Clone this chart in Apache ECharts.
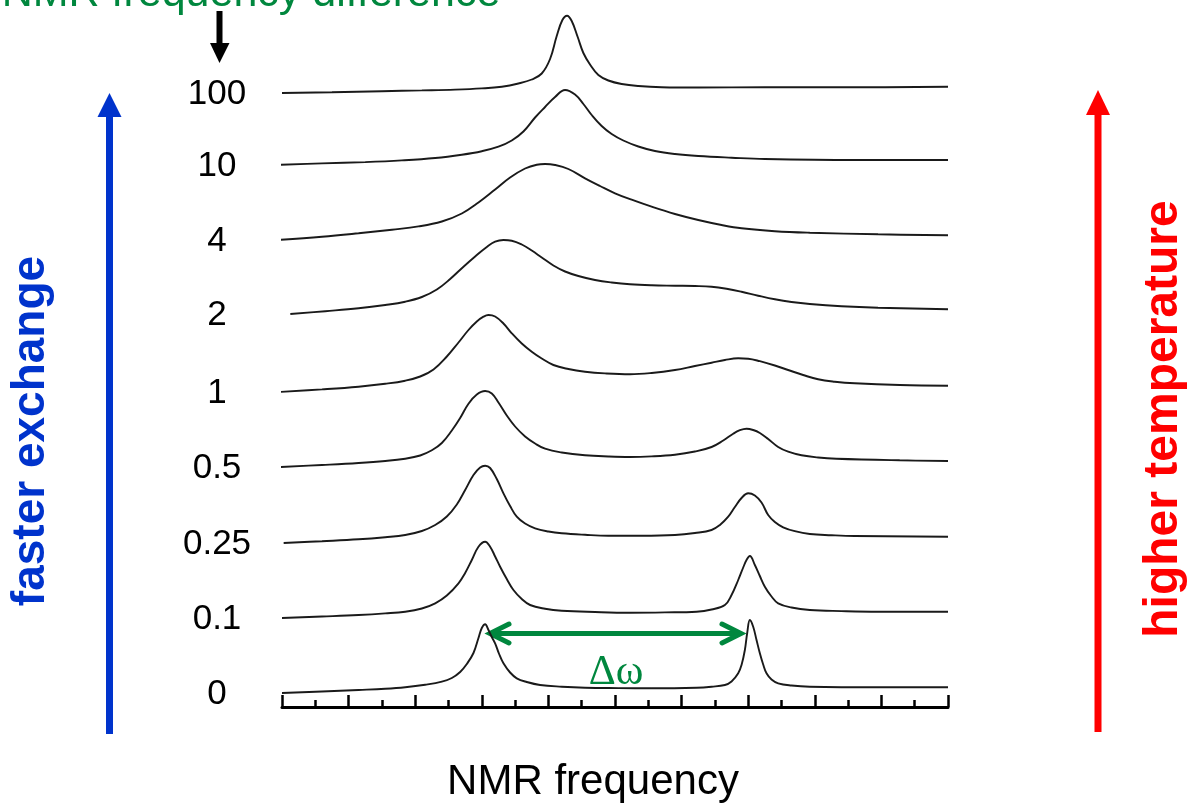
<!DOCTYPE html>
<html><head><meta charset="utf-8">
<script src="https://cdn.jsdelivr.net/npm/echarts@6/dist/echarts.min.js"></script>
<style>html,body{margin:0;padding:0;background:#fff}#c{width:1189px;height:807px}</style>
</head><body><div id="c"></div>
<script>
// exchange-rate labels (top to bottom) and stacking offsets of each trace
const rates = ['100', '10', '4', '2', '1', '0.5', '0.25', '0.1', '0'];
const offsets = [614, 542, 467, 393, 315, 240, 164, 89, 14];

// [frequency (axis units 0..20), intensity above trace baseline]
const trace100 = [[0,0],[1.5,0.8],[3,1.8],[4.2,2.6],[5.2,3.4],[6.0,4.6],[6.6,6.3],[7.1,9.5],[7.5,13.5],[7.8,19.5],[8.05,34],[8.25,57],[8.42,73],[8.56,77.3],[8.7,72],[8.88,56],[9.05,40],[9.25,28.5],[9.5,18],[9.8,12.5],[10.2,9],[10.7,7],[11.4,5.8],[12.5,5.5],[14.5,5.7],[17.2,5.7],[20,6.3]];
const trace10 = [[-0.2,0],[1.2,1.6],[2.5,2.9],[3.6,4.6],[4.6,7],[5.4,10.3],[6.0,13.8],[6.5,18.3],[6.9,24.5],[7.25,33.5],[7.6,47.5],[7.9,58],[8.2,68],[8.5,75],[8.8,70.5],[9.05,61],[9.3,50],[9.6,39],[9.9,31],[10.25,24.5],[10.7,18.5],[11.2,14],[11.8,11],[12.5,9],[13.5,7.3],[14.5,6],[17.2,5],[20,5]];
const trace4 = [[-0.15,0],[1.2,3.2],[2.3,6.7],[3.3,10.3],[4.1,13.6],[4.8,18.5],[5.4,26.5],[5.9,37.5],[6.4,50.5],[6.85,62.5],[7.3,71.5],[7.65,75.3],[7.9,76],[8.2,75],[8.6,71],[9.1,61.7],[9.55,54],[10.0,46.7],[10.5,40.3],[11.1,33.3],[11.8,26],[12.5,20],[13.2,15],[13.8,11.7],[14.8,8.8],[15.85,7.3],[17.9,5.7],[20,4.7]];
const trace2 = [[0.25,0],[1.3,2.8],[2.3,5.7],[3.1,9],[3.7,12.3],[4.2,17],[4.65,24.5],[5.05,35],[5.45,47.3],[5.8,57.5],[6.15,67],[6.4,72.3],[6.65,74],[6.9,73.3],[7.2,69.5],[7.5,63.5],[7.8,56.5],[8.15,48.5],[8.5,42.5],[8.9,38],[9.4,34],[9.9,31.5],[10.45,29.7],[11.1,28.7],[11.8,28.3],[12.4,28],[12.9,27.3],[13.35,25.3],[13.8,22.3],[14.3,18.3],[14.8,14.7],[15.3,12],[15.85,10],[16.8,7.8],[17.9,6.3],[20,4.7]];
const trace1 = [[-0.1,0],[1.2,2.6],[2.3,5.3],[3.1,8.2],[3.7,11.3],[4.15,15.5],[4.55,22.5],[4.95,35.5],[5.3,49.5],[5.6,62],[5.85,70.5],[6.05,75.3],[6.2,77],[6.4,75.5],[6.65,68.5],[6.9,58.7],[7.2,48.5],[7.5,40.3],[7.8,33.5],[8.15,27],[8.6,23],[9.1,20.3],[9.7,18.6],[10.45,17.7],[11.1,19],[11.8,22],[12.4,26],[12.9,29.3],[13.3,32],[13.7,33.7],[14.0,33.3],[14.35,30.8],[14.8,26.5],[15.2,22],[15.65,17],[16.1,12.7],[16.6,10.3],[17.2,8.7],[18.55,7],[20,6.3]];
const trace05 = [[-0.05,0],[1.2,2],[2.3,4],[3.1,6],[3.7,8.3],[4.15,11.5],[4.5,16.7],[4.8,24],[5.1,36.5],[5.35,49],[5.6,63.3],[5.85,72.5],[6.1,76],[6.3,73.5],[6.5,64.5],[6.75,51.5],[7.0,40.5],[7.3,30.5],[7.6,23.5],[7.9,18.3],[8.4,14.5],[9.1,11.7],[9.8,10.5],[10.45,10],[11.1,10.6],[11.8,12.3],[12.4,15.5],[12.9,20],[13.25,26.5],[13.55,33.3],[13.75,36.8],[13.95,38.3],[14.15,37],[14.35,34],[14.6,28],[14.9,20],[15.2,15.3],[15.6,11.7],[16.1,9.5],[16.65,8.3],[18.55,6.7],[20,6]];
const trace025 = [[0.05,0],[1.2,1.8],[2.3,3.7],[3.1,5.8],[3.7,8],[4.2,12],[4.6,18],[4.95,26.5],[5.25,38.5],[5.5,53],[5.75,68],[5.95,75.5],[6.1,77.3],[6.25,75],[6.45,64],[6.65,49.7],[6.85,37],[7.05,26.3],[7.3,19.5],[7.6,14.7],[8.0,11.5],[8.4,9.7],[9.1,8.2],[9.8,7.3],[10.8,7.3],[11.8,8],[12.4,10],[12.9,13],[13.15,18],[13.4,26.3],[13.6,36],[13.8,45],[14.0,49.7],[14.2,47.5],[14.4,40.5],[14.6,28],[14.8,21],[15.05,15.7],[15.4,11.8],[15.85,9],[16.5,7.8],[17.2,7],[20,6.3]];
const trace01 = [[0,0],[1.2,1.5],[2.3,3],[3.1,4.6],[3.7,6.3],[4.2,9.5],[4.6,14.7],[4.95,22.5],[5.3,34.7],[5.5,45],[5.7,58],[5.9,71.3],[6.1,76.3],[6.25,71.3],[6.4,61.5],[6.55,51.3],[6.75,39],[6.95,28],[7.2,19],[7.45,13],[7.9,9.3],[8.4,7.3],[9.4,6],[10.45,5.3],[11.5,5.6],[12.45,6.3],[12.9,8.5],[13.3,13],[13.5,23],[13.7,38],[13.85,50.5],[13.95,58],[14.05,62],[14.2,53],[14.35,42],[14.5,31.3],[14.7,21.5],[14.9,14.7],[15.3,10.5],[15.85,8],[16.8,6.9],[17.9,6.3],[20,6.3]];
const trace0 = [[0,0],[1.2,1.5],[2.3,3],[3.1,4.2],[3.7,5.7],[4.3,8.2],[4.8,11.3],[5.1,15],[5.35,21],[5.55,29],[5.75,40],[5.9,55],[6.0,65],[6.1,68.7],[6.2,63],[6.3,56],[6.4,49.7],[6.52,39],[6.65,29.7],[6.85,20.5],[7.05,14.7],[7.35,11],[7.75,8],[8.4,6.3],[9.1,5.3],[10.1,4.9],[11.1,4.7],[12.45,5.3],[12.9,6.3],[13.3,8],[13.5,11.5],[13.7,19.7],[13.8,28],[13.9,43],[13.97,60],[14.05,73],[14.15,66.3],[14.25,53],[14.35,39.7],[14.45,28.5],[14.55,19.7],[14.7,13.5],[14.9,9.7],[15.3,7.5],[15.85,6.3],[17.9,5.7],[20,5.7]];
const traces = [trace100, trace10, trace4, trace2, trace1, trace05, trace025, trace01, trace0];

const chart = echarts.init(document.getElementById('c'), null, {renderer: 'canvas'});
const FONT = '"Liberation Sans", Arial, sans-serif';

const series = traces.map((t, i) => ({
  type: 'line', name: rates[i], silent: true, clip: false,
  smooth: 0.4, showSymbol: false, symbol: 'none',
  lineStyle: {color: '#1a1a1a', width: 1.9},
  data: t.map(p => [p[0], offsets[i] + p[1]])
}));

chart.setOption({
  animation: false,
  backgroundColor: '#fff',
  grid: {left: 282, right: 241, top: 0, bottom: 100},
  xAxis: {
    type: 'value', min: 0, max: 20, interval: 2,
    axisLine: {show: true, lineStyle: {color: '#000', width: 3}},
    axisTick: {show: true, inside: true, length: 12, lineStyle: {color: '#000', width: 2.5}},
    minorTick: {show: true, splitNumber: 2, length: 7, lineStyle: {color: '#000', width: 2.5}},
    axisLabel: {show: false}, splitLine: {show: false}, minorSplitLine: {show: false}
  },
  yAxis: {type: 'value', min: 0, max: 707, show: false, splitLine: {show: false}},
  series: series
});

const G = '#00873e';
const graphics = [];
// rate labels, placed at each trace's baseline
rates.forEach((r, i) => {
  const py = chart.convertToPixel({gridIndex: 0}, [0, offsets[i]])[1];
  graphics.push({type: 'text', x: 217, y: py + 1, silent: true,
    style: {text: r, font: '35px ' + FONT, fill: '#000', align: 'center', verticalAlign: 'middle'}});
});
// top green title (cut off at the top)
graphics.push({type: 'text', x: 251, y: -6, silent: true,
  style: {text: 'NMR frequency difference', font: '43px ' + FONT, fill: G, align: 'center', verticalAlign: 'middle'}});
// black down arrow
graphics.push({type: 'line', silent: true, shape: {x1: 219.5, y1: 11, x2: 219.5, y2: 46}, style: {stroke: '#000', lineWidth: 6}});
graphics.push({type: 'polygon', silent: true, shape: {points: [[210, 43], [229.5, 43], [219.5, 63]]}, style: {fill: '#000'}});
// blue arrow
graphics.push({type: 'line', silent: true, shape: {x1: 109.5, y1: 734, x2: 109.5, y2: 114}, style: {stroke: '#0033cc', lineWidth: 7}});
graphics.push({type: 'polygon', silent: true, shape: {points: [[97.5, 117], [121.5, 117], [109.5, 93]]}, style: {fill: '#0033cc'}});
graphics.push({type: 'text', x: 31, y: 431, rotation: Math.PI / 2, silent: true,
  style: {text: 'faster exchange', font: 'bold 46px ' + FONT, fill: '#0033cc', align: 'center', verticalAlign: 'middle'}});
// red arrow
graphics.push({type: 'line', silent: true, shape: {x1: 1098, y1: 732, x2: 1098, y2: 112}, style: {stroke: '#ff0000', lineWidth: 7}});
graphics.push({type: 'polygon', silent: true, shape: {points: [[1086, 115], [1110, 115], [1098, 90]]}, style: {fill: '#ff0000'}});
graphics.push({type: 'text', x: 1164, y: 419, rotation: Math.PI / 2, silent: true,
  style: {text: 'higher temperature', font: 'bold 48px ' + FONT, fill: '#ff0000', align: 'center', verticalAlign: 'middle'}});
// green double arrow with Δω
graphics.push({type: 'line', silent: true, shape: {x1: 492, y1: 633.5, x2: 739, y2: 633.5}, style: {stroke: G, lineWidth: 5}});
graphics.push({type: 'polyline', silent: true, shape: {points: [[509, 624], [490, 633.5], [509, 643]]}, style: {stroke: G, lineWidth: 5, fill: null, lineCap: 'round'}});
graphics.push({type: 'polyline', silent: true, shape: {points: [[722, 624], [741, 633.5], [722, 643]]}, style: {stroke: G, lineWidth: 5, fill: null, lineCap: 'round'}});
graphics.push({type: 'text', x: 616, y: 673, silent: true,
  style: {text: 'Δω', font: '42px "Liberation Serif", "Times New Roman", serif', fill: G, align: 'center', verticalAlign: 'middle'}});
// x axis title
graphics.push({type: 'text', x: 593, y: 782, silent: true,
  style: {text: 'NMR frequency', font: '42px ' + FONT, fill: '#000', align: 'center', verticalAlign: 'middle'}});

chart.setOption({graphic: graphics});
</script></body></html>
